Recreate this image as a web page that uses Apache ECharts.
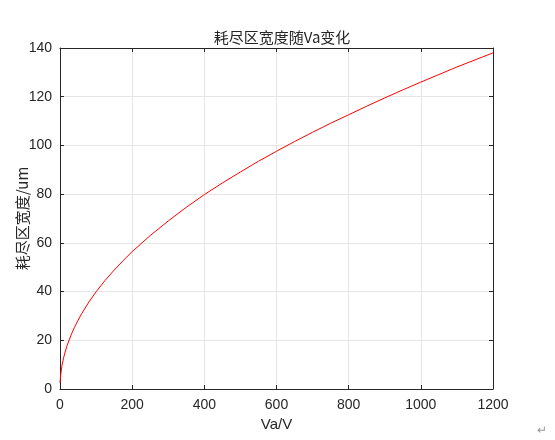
<!DOCTYPE html>
<html><head><meta charset="utf-8">
<script src="https://cdn.jsdelivr.net/npm/echarts@6/dist/echarts.min.js"></script>
<style>html,body{margin:0;padding:0;background:#fff}#c{width:555px;height:440px}</style>
</head><body><div id="c"></div>
<script>
const titleText = '耗尽区宽度随Va变化';
const xName = 'Va/V';
const yName = '耗尽区宽度/um';
const xTicks = [0, 200, 400, 600, 800, 1000, 1200];
const yTicks = [0, 20, 40, 60, 80, 100, 120, 140];
const va = [0, 1, 3, 5, 10, 15, 20, 30, 40, 50, 60, 80, 100, 125, 150, 175, 200, 250, 300, 350, 400, 450, 500, 550, 600, 650, 700, 750, 800, 850, 900, 950, 1000, 1050, 1100, 1150, 1200];
const width = [2.5, 4.5, 7, 9.3, 12.8, 15.6, 18, 21.9, 25.3, 28.2, 30.9, 35.7, 39.9, 44.6, 48.8, 52.7, 56.4, 63, 69, 74.6, 79.8, 84.6, 89.1, 93.5, 97.6, 101.6, 105.4, 109.1, 112.6, 116.1, 119.5, 122.8, 126, 129.1, 132.2, 135.1, 138];

const chart = echarts.init(document.getElementById('c'), null, {renderer: 'canvas'});
const txt = '#262626';
const frame = '#262626';
const gridC = '#e6e6e6';
const sans = 'Liberation Sans, Arial, sans-serif';
const cjk = '"Noto Sans CJK SC", sans-serif';
const fmt = v => String(v);
const axBase = (pos, show) => ({
  type: 'value', position: pos,
  min: xTicks[0], max: xTicks[xTicks.length-1], interval: 200,
  axisLine: {show: true, onZero: false, lineStyle: {color: frame, width: 1}},
  axisTick: {show: true, inside: true, length: 4, lineStyle: {color: frame}},
  axisLabel: {show: show, color: txt, fontSize: 14, fontFamily: sans, margin: 9, formatter: fmt},
  splitLine: {show: show, lineStyle: {color: gridC, width: 1}}
});
const ayBase = (pos, show) => ({
  type: 'value', position: pos,
  min: yTicks[0], max: yTicks[yTicks.length-1], interval: 20,
  axisLine: {show: true, onZero: false, lineStyle: {color: frame, width: 1}},
  axisTick: {show: true, inside: true, length: 4, lineStyle: {color: frame}},
  axisLabel: {show: show, color: txt, fontSize: 14, fontFamily: sans, margin: 8, formatter: fmt},
  splitLine: {show: show, lineStyle: {color: gridC, width: 1}}
});
const xa = axBase('bottom', true);
xa.name = xName; xa.nameLocation = 'middle'; xa.nameGap = 28; xa.nameMoveOverlap = false;
xa.nameTextStyle = {color: txt, fontSize: 15, fontFamily: sans};
const ya = ayBase('left', true);
ya.name = yName; ya.nameLocation = 'middle'; ya.nameGap = 30; ya.nameMoveOverlap = false;
ya.nameTextStyle = {color: txt, fontSize: 15, fontFamily: cjk};

chart.setOption({
  animation: false,
  backgroundColor: '#fff',
  title: {text: titleText, left: 277, top: 25, textAlign: 'center',
    textStyle: {color: txt, fontSize: 15, fontWeight: 'normal', fontFamily: cjk}},
  grid: {left: 60, right: 62, top: 48, bottom: 51, containLabel: false, outerBoundsMode: 'none'},
  xAxis: [xa, axBase('top', false)],
  yAxis: [ya, ayBase('right', false)],
  series: [{
    type: 'line', xAxisIndex: 0, yAxisIndex: 0,
    data: va.map((v, i) => [v, width[i]]),
    showSymbol: false, smooth: false,
    lineStyle: {color: '#ff0000', width: 1}, itemStyle: {color: '#ff0000'}
  }],
  graphic: [{type: 'text', left: 537, top: 425, style: {text: '↵', fill: '#999', fontSize: 12, fontFamily: sans}}]
});
</script></body></html>
